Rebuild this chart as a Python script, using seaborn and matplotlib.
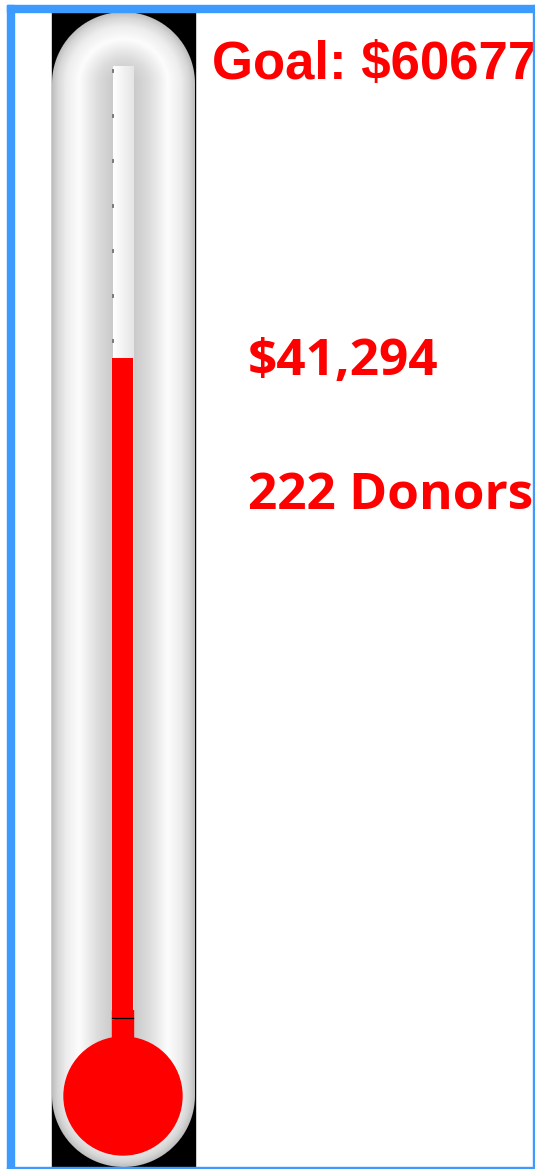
import numpy as np
import pandas as pd
import matplotlib
matplotlib.use("Agg")
import matplotlib.pyplot as plt
from matplotlib.patches import Rectangle, Circle
import seaborn as sns

# campaign figures
goal = 60677
raised = 41294
donors = 222
labels = ["raised"]
amounts = [raised]

W, H = 535, 1169
RED = "#ff0000"
BLUE = "#3d9bff"

fig = plt.figure(figsize=(W / 100, H / 100), dpi=100)
ax = fig.add_axes([0, 0, 1, 1])
ax.set_xlim(0, W)
ax.set_ylim(H, 0)
ax.axis("off")

# tube: black backing + shaded glass (distance-from-axis shading)
tx0, tx1, ty0 = 52, 195, 12
cx = (tx0 + tx1) / 2
rad = (tx1 - tx0) / 2
ax.add_patch(Rectangle((tx0, ty0), tx1 - tx0, H - ty0, color="black", zorder=1))
yy, xx = np.mgrid[0:H, 0:W] + 0.5
dy = np.maximum(0, np.maximum((ty0 + rad) - yy, yy - (1167 - rad)))
dist = np.hypot(xx - cx, dy)
d = dist / rad
shade = np.interp(d, [0, 0.17, 0.35, 0.62, 0.8, 0.92, 1.0],
                  [0.78, 0.80, 0.86, 0.99, 0.93, 0.84, 0.74])
alpha = np.clip(rad - dist + 0.5, 0, 1)
img = np.dstack([shade, shade, shade, alpha])
ax.imshow(img, extent=(0, W, H, 0), origin="upper", interpolation="nearest", zorder=2)

# empty glass column
col = np.linspace(1.0, 0.9, 21)[None, :]
ax.imshow(np.dstack([col, col, col]), extent=(113, 134, 1038, 66),
          interpolation="bilinear", zorder=3)

# bulb + stem
ax.add_patch(Rectangle((112, 1010), 21, 50, color=RED, zorder=4))
ax.add_patch(Circle((123, 1096), 59, color=RED, zorder=5))

# texts
ax.text(212, 79, f"Goal: ${goal}", color=RED, fontsize=38, fontweight="bold",
        family=["Liberation Sans", "DejaVu Sans"], va="baseline", zorder=6)
ax.text(248, 375, f"${raised:,}", color=RED, fontsize=37, fontweight="bold",
        family=["Open Sans", "DejaVu Sans"], va="baseline", zorder=6)
ax.text(248, 509, f"{donors} Donors", color=RED, fontsize=37, fontweight="bold",
        family=["Open Sans", "DejaVu Sans"], va="baseline", zorder=6)

# blue frame
ax.add_patch(Rectangle((7, 5), 7, H - 5, color=BLUE, zorder=10))
ax.add_patch(Rectangle((7, 5), W - 7, 7, color=BLUE, zorder=10))
ax.add_patch(Rectangle((532.8, 5), 3, H - 5, color=BLUE, zorder=10))
ax.add_patch(Rectangle((7, 1166.7), W - 7, 3, color=BLUE, zorder=10))

# mercury column drawn as a seaborn bar
zero_px, top_px = 1018, 66
ax_col = fig.add_axes([112 / W, 1 - zero_px / H, 21 / W, (zero_px - top_px) / H])
ax_col.set_facecolor("none")
df = pd.DataFrame({"label": labels, "amount": amounts})
sns.barplot(data=df, x="label", y="amount", color=RED, saturation=1, width=1,
            linewidth=0, ax=ax_col)
ax_col.set_ylim(0, goal * 0.9816)
ax_col.set_xlim(-0.5, 0.5)
tick_step = goal / 21.5
ax_col.set_yticks(np.arange(0, goal * 0.98, tick_step))
ax_col.set_axisbelow(True)
ax_col.tick_params(axis="y", direction="in", length=1.2, width=2.8, color="#7a7a7a",
                   labelleft=False, pad=0)
ax_col.tick_params(axis="x", bottom=False, labelbottom=False)
ax_col.axhline(0, color="black", lw=0.9, clip_on=False, zorder=5)
for s in ax_col.spines.values():
    s.set_visible(False)
ax_col.set_xlabel("")
ax_col.set_ylabel("")

fig.savefig("out.png", dpi=100)
